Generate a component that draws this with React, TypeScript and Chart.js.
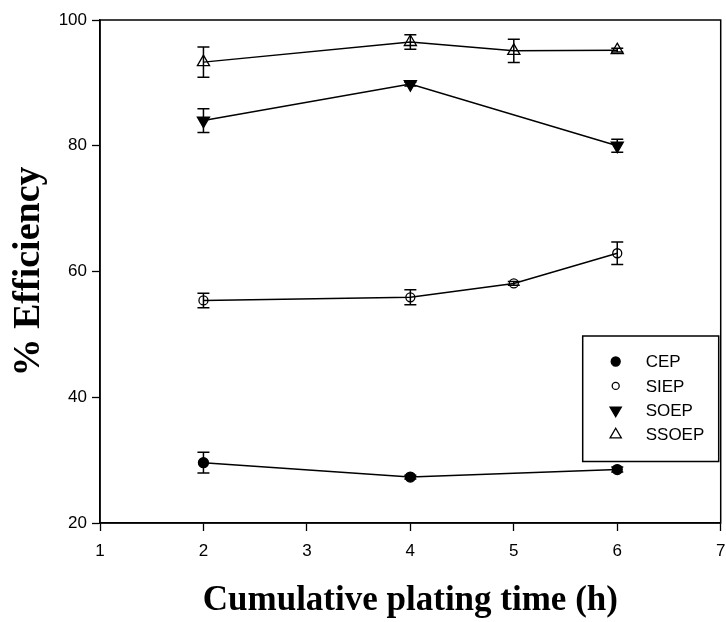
import React, { useEffect, useRef } from 'react';
import { Chart, registerables } from 'chart.js';

Chart.register(...registerables);

// ---- data ----
const seriesNames = ['CEP', 'SIEP', 'SOEP', 'SSOEP'];

const cepX = [2, 4, 6];
const cepY = [29.6, 27.3, 28.5];
const cepErr = [1.65, 0.3, 0.4];

const siepX = [2, 4, 5, 6];
const siepY = [55.4, 55.9, 58.1, 62.9];
const siepErr = [1.15, 1.2, 0.3, 1.8];

const soepX = [2, 4, 6];
const soepY = [84.0, 89.8, 80.0];
const soepErr = [1.9, 0.3, 1.05];

const ssoepX = [2, 4, 5, 6];
const ssoepY = [93.3, 96.5, 95.1, 95.2];
const ssoepErr = [2.4, 1.15, 1.85, 0.3];

const xTickRange = [1, 7];
const yTickRange = [20, 100];
const xTitle = 'Cumulative plating time (h)';
const yTitle = '% Efficiency';

const SANS = "'Liberation Sans', Arial, Helvetica, sans-serif";
const SERIF = "'Liberation Serif', 'Times New Roman', serif";

const toPts = (xs: number[], ys: number[]) => xs.map((x, i) => ({ x, y: ys[i] }));

const zeroPadding = () => ({ left: 0, top: 0, right: 0, bottom: 0 });

function drawMarker(ctx: CanvasRenderingContext2D, kind: string, x: number, y: number, r: number, filled: boolean) {
  ctx.beginPath();
  if (kind === 'circle') {
    ctx.arc(x, y, r, 0, Math.PI * 2);
  } else if (kind === 'up') {
    const h = r * 1.5;
    const w = r * 1.732;
    ctx.moveTo(x, y - r);
    ctx.lineTo(x + w / 2, y - r + h);
    ctx.lineTo(x - w / 2, y - r + h);
    ctx.closePath();
  } else {
    const h = r * 1.5;
    const w = r * 1.732;
    ctx.moveTo(x, y + r);
    ctx.lineTo(x + w / 2, y + r - h);
    ctx.lineTo(x - w / 2, y + r - h);
    ctx.closePath();
  }
  if (filled) {
    ctx.fillStyle = '#000';
    ctx.fill();
  }
  ctx.strokeStyle = '#000';
  ctx.lineWidth = 1.3;
  ctx.stroke();
}

const errorBarPlugin = {
  id: 'errorBars',
  afterDatasetsDraw(chart: any) {
    const ctx = chart.ctx;
    const xs = chart.scales.x;
    const ys = chart.scales.y;
    ctx.save();
    ctx.strokeStyle = '#000';
    ctx.lineWidth = 1.5;
    chart.data.datasets.forEach((ds: any) => {
      ds.data.forEach((p: any, i: number) => {
        const e = ds.errors[i];
        const px = xs.getPixelForValue(p.x);
        const top = ys.getPixelForValue(p.y + e);
        const bot = ys.getPixelForValue(p.y - e);
        ctx.beginPath();
        ctx.moveTo(px, top);
        ctx.lineTo(px, bot);
        ctx.moveTo(px - 6, top);
        ctx.lineTo(px + 6, top);
        ctx.moveTo(px - 6, bot);
        ctx.lineTo(px + 6, bot);
        ctx.stroke();
      });
    });
    ctx.restore();
  },
};

const framePlugin = {
  id: 'frame',
  afterDraw(chart: any) {
    const { ctx, chartArea } = chart;
    ctx.save();
    ctx.strokeStyle = '#000';
    ctx.lineWidth = 1.5;
    ctx.strokeRect(chartArea.left, chartArea.top, chartArea.right - chartArea.left, chartArea.bottom - chartArea.top);
    ctx.restore();
  },
};

const legendPlugin = {
  id: 'boxLegend',
  afterDraw(chart: any) {
    const ctx = chart.ctx;
    const area = chart.chartArea;
    const boxR = area.right - 2;
    const boxL = boxR - 136;
    const boxT = 336;
    const boxB = 461.5;
    ctx.save();
    ctx.fillStyle = '#fff';
    ctx.fillRect(boxL, boxT, boxR - boxL, boxB - boxT);
    ctx.strokeStyle = '#000';
    ctx.lineWidth = 1.5;
    ctx.strokeRect(boxL, boxT, boxR - boxL, boxB - boxT);
    const kinds = [
      { k: 'circle', r: 4.5, f: true },
      { k: 'circle', r: 3.5, f: false },
      { k: 'down', r: 6.5, f: true },
      { k: 'up', r: 6.5, f: false },
    ];
    ctx.font = `17px ${SANS}`;
    ctx.textBaseline = 'middle';
    ctx.textAlign = 'left';
    chart.data.datasets.forEach((ds: any, i: number) => {
      const y = 361.5 + i * 24.4;
      const m = kinds[i];
      drawMarker(ctx, m.k, boxL + 33, y, m.r, m.f);
      ctx.fillStyle = '#000';
      ctx.fillText(ds.label, boxL + 63, y + 1);
    });
    ctx.restore();
  },
};

export default function App() {
  const ref = useRef<HTMLCanvasElement | null>(null);

  useEffect(() => {
    document.body.style.margin = '0';
    document.body.style.overflow = 'hidden';
    const canvas = ref.current;
    if (!canvas) return;
    const common = {
      borderColor: '#000',
      borderWidth: 1.5,
      showLine: true,
      tension: 0,
      pointBorderColor: '#000',
      pointBorderWidth: 1.3,
    };
    const chart = new Chart(canvas, {
      type: 'line',
      data: {
        datasets: [
          {
            ...common,
            label: seriesNames[0],
            data: toPts(cepX, cepY),
            errors: cepErr,
            pointStyle: 'circle',
            pointRadius: 5,
            pointBackgroundColor: '#000',
          },
          {
            ...common,
            label: seriesNames[1],
            data: toPts(siepX, siepY),
            errors: siepErr,
            pointStyle: 'circle',
            pointRadius: 4.5,
            pointBackgroundColor: 'rgba(0,0,0,0)',
          },
          {
            ...common,
            label: seriesNames[2],
            data: toPts(soepX, soepY),
            errors: soepErr,
            pointStyle: 'triangle',
            pointRotation: 180,
            pointRadius: 7,
            pointBackgroundColor: '#000',
          },
          {
            ...common,
            label: seriesNames[3],
            data: toPts(ssoepX, ssoepY),
            errors: ssoepErr,
            pointStyle: 'triangle',
            pointRadius: 7,
            pointBackgroundColor: 'rgba(0,0,0,0)',
          },
        ] as any,
      },
      options: {
        responsive: false,
        animation: false,
        devicePixelRatio: 1,
        layout: { padding: { top: 20, right: 0, left: 0, bottom: 0 } },
        plugins: {
          legend: { display: false },
          tooltip: { enabled: false },
        },
        scales: {
          x: {
            type: 'linear',
            min: xTickRange[0],
            max: xTickRange[1],
            afterFit: (s: any) => {
              s.height = 99;
              s.paddingLeft = 0;
              s.paddingRight = 0;
              s.getPadding = zeroPadding;
            },
            ticks: {
              stepSize: 1,
              color: '#000',
              padding: 10,
              font: { family: SANS, size: 17 },
            },
            grid: {
              drawOnChartArea: false,
              drawTicks: true,
              tickLength: 8,
              tickColor: '#000',
              tickWidth: 1.3,
            },
            border: { display: true, color: '#000', width: 1.5 },
            title: {
              display: true,
              text: xTitle,
              color: '#000',
              font: { family: SERIF, size: 35, weight: 'bold' },
              padding: { top: 0, bottom: 0 },
            },
          },
          y: {
            type: 'linear',
            min: yTickRange[0],
            max: yTickRange[1],
            afterFit: (s: any) => {
              s.width = 100;
              s.paddingTop = 0;
              s.paddingBottom = 0;
              s.getPadding = zeroPadding;
            },
            ticks: {
              stepSize: 20,
              color: '#000',
              padding: 5,
              font: { family: SANS, size: 17 },
            },
            grid: {
              drawOnChartArea: false,
              drawTicks: true,
              tickLength: 8,
              tickColor: '#000',
              tickWidth: 1.3,
            },
            border: { display: true, color: '#000', width: 1.5 },
            title: {
              display: true,
              text: yTitle,
              color: '#000',
              font: { family: SERIF, size: 38, weight: 'bold' },
              padding: { top: 6, bottom: 0 },
            },
          },
        },
      } as any,
      plugins: [errorBarPlugin, framePlugin, legendPlugin],
    });
    return () => {
      chart.destroy();
    };
  }, []);

  return (
    <div style={{ position: 'absolute', left: 0, top: 0, width: 726, height: 622, overflow: 'hidden', background: '#fff' }}>
      <canvas ref={ref} width={729} height={622} style={{ display: 'block', width: 729, height: 622 }} />
    </div>
  );
}
